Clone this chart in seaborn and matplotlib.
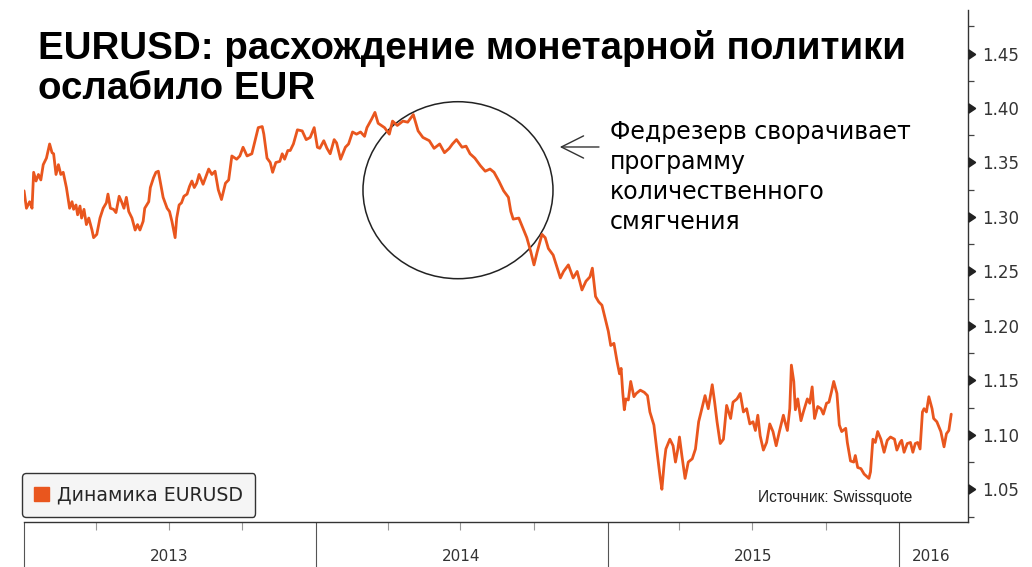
import pandas as pd
import matplotlib.pyplot as plt
import matplotlib.dates as mdates
import matplotlib.transforms as mtransforms
from matplotlib.patches import Patch, Ellipse
from matplotlib.ticker import MultipleLocator, NullFormatter, FormatStrFormatter
import seaborn as sns

# EURUSD (approximate points)
dates = [
    '2013-01-01', '2013-01-04', '2013-01-08', '2013-01-11', '2013-01-13', '2013-01-16', '2013-01-19', '2013-01-22', '2013-01-25', '2013-01-29',
    '2013-02-02', '2013-02-05', '2013-02-07', '2013-02-10', '2013-02-13', '2013-02-16', '2013-02-19', '2013-02-23', '2013-02-27',
    '2013-03-02', '2013-03-04', '2013-03-07', '2013-03-09', '2013-03-12', '2013-03-14', '2013-03-17', '2013-03-20', '2013-03-23', '2013-03-27', '2013-03-29',
    '2013-04-02', '2013-04-06', '2013-04-10', '2013-04-14', '2013-04-16', '2013-04-19', '2013-04-23', '2013-04-26', '2013-04-30',
    '2013-05-03', '2013-05-06', '2013-05-09', '2013-05-12', '2013-05-16', '2013-05-20', '2013-05-23', '2013-05-26', '2013-05-30',
    '2013-06-01', '2013-06-06', '2013-06-08', '2013-06-12', '2013-06-15', '2013-06-18', '2013-06-21', '2013-06-24', '2013-06-29',
    '2013-07-02', '2013-07-05', '2013-07-09', '2013-07-11', '2013-07-14', '2013-07-17', '2013-07-20', '2013-07-24', '2013-07-27', '2013-07-30',
    '2013-08-02', '2013-08-05', '2013-08-08', '2013-08-13', '2013-08-20', '2013-08-24', '2013-08-28',
    '2013-09-01', '2013-09-05', '2013-09-10', '2013-09-14', '2013-09-18', '2013-09-24', '2013-09-28',
    '2013-10-02', '2013-10-07', '2013-10-13', '2013-10-17', '2013-10-21', '2013-10-26', '2013-10-28',
    '2013-11-01', '2013-11-05', '2013-11-08', '2013-11-12', '2013-11-17', '2013-11-20', '2013-11-23', '2013-11-27', '2013-11-30',
    '2013-12-04', '2013-12-09', '2013-12-15', '2013-12-20', '2013-12-25', '2013-12-30',
    '2014-01-03', '2014-01-06', '2014-01-11', '2014-01-15', '2014-01-19', '2014-01-24', '2014-01-27',
    '2014-02-01', '2014-02-07', '2014-02-11', '2014-02-16', '2014-02-21', '2014-02-26',
    '2014-03-03', '2014-03-06', '2014-03-12', '2014-03-16', '2014-03-20', '2014-03-22', '2014-03-28',
    '2014-04-03', '2014-04-07', '2014-04-13', '2014-04-20', '2014-04-26',
    '2014-05-03', '2014-05-09', '2014-05-15', '2014-05-23', '2014-05-29',
    '2014-06-05', '2014-06-11', '2014-06-17', '2014-06-21', '2014-06-26',
    '2014-07-03', '2014-07-08', '2014-07-13', '2014-07-19', '2014-07-26',
    '2014-08-01', '2014-08-07', '2014-08-12', '2014-08-18', '2014-08-24', '2014-08-30',
    '2014-09-02', '2014-09-05', '2014-09-12', '2014-09-17', '2014-09-22', '2014-09-27',
    '2014-10-01', '2014-10-05', '2014-10-11', '2014-10-15', '2014-10-19', '2014-10-25',
    '2014-11-03', '2014-11-07', '2014-11-13', '2014-11-19', '2014-11-24', '2014-11-30',
    '2014-12-05', '2014-12-10', '2014-12-13', '2014-12-17', '2014-12-21', '2014-12-25', '2014-12-29',
    '2015-01-02', '2015-01-05', '2015-01-09', '2015-01-13', '2015-01-16', '2015-01-18', '2015-01-20', '2015-01-22', '2015-01-24', '2015-01-27', '2015-01-30',
    '2015-02-03', '2015-02-06', '2015-02-11', '2015-02-16', '2015-02-20', '2015-02-23', '2015-02-28',
    '2015-03-04', '2015-03-08', '2015-03-10', '2015-03-13', '2015-03-15', '2015-03-20', '2015-03-24', '2015-03-27', '2015-03-30',
    '2015-04-01', '2015-04-04', '2015-04-08', '2015-04-12', '2015-04-17', '2015-04-21', '2015-04-25', '2015-04-29',
    '2015-05-03', '2015-05-07', '2015-05-12', '2015-05-15', '2015-05-18', '2015-05-22', '2015-05-26', '2015-05-30',
    '2015-06-04', '2015-06-07', '2015-06-12', '2015-06-16', '2015-06-20', '2015-06-24', '2015-06-28',
    '2015-07-02', '2015-07-05', '2015-07-08', '2015-07-11', '2015-07-15', '2015-07-19', '2015-07-23', '2015-07-27', '2015-07-31',
    '2015-08-04', '2015-08-09', '2015-08-11', '2015-08-14', '2015-08-17', '2015-08-19', '2015-08-22', '2015-08-24', '2015-08-27', '2015-08-31',
    '2015-09-03', '2015-09-08', '2015-09-11', '2015-09-14', '2015-09-17', '2015-09-21', '2015-09-25', '2015-09-28',
    '2015-10-02', '2015-10-05', '2015-10-08', '2015-10-11', '2015-10-15', '2015-10-18', '2015-10-21', '2015-10-26', '2015-10-28',
    '2015-11-01', '2015-11-05', '2015-11-07', '2015-11-10', '2015-11-14', '2015-11-18', '2015-11-24', '2015-11-26', '2015-11-29',
    '2015-12-02', '2015-12-05', '2015-12-09', '2015-12-13', '2015-12-17', '2015-12-21', '2015-12-26', '2015-12-29',
    '2016-01-02', '2016-01-04', '2016-01-07', '2016-01-11', '2016-01-15', '2016-01-18', '2016-01-21', '2016-01-24', '2016-01-27', '2016-01-30',
    '2016-02-01', '2016-02-04', '2016-02-07', '2016-02-11', '2016-02-13', '2016-02-17', '2016-02-22', '2016-02-26', '2016-02-29',
    '2016-03-03', '2016-03-06',
]
eurusd = [
    1.324, 1.308, 1.314, 1.308, 1.341, 1.333, 1.339, 1.334, 1.348, 1.354,
    1.367, 1.359, 1.358, 1.339, 1.348, 1.339, 1.341, 1.327, 1.308,
    1.314, 1.307, 1.311, 1.302, 1.310, 1.299, 1.307, 1.293, 1.299, 1.288, 1.281,
    1.284, 1.299, 1.308, 1.313, 1.321, 1.308, 1.307, 1.304, 1.319,
    1.314, 1.308, 1.318, 1.305, 1.299, 1.288, 1.293, 1.288, 1.296,
    1.308, 1.314, 1.327, 1.336, 1.341, 1.342, 1.330, 1.318, 1.308,
    1.305, 1.296, 1.281, 1.299, 1.311, 1.313, 1.319, 1.321, 1.328, 1.333,
    1.327, 1.331, 1.339, 1.330, 1.344, 1.339, 1.342,
    1.325, 1.316, 1.331, 1.334, 1.356, 1.353, 1.356,
    1.364, 1.356, 1.358, 1.370, 1.382, 1.383, 1.376,
    1.354, 1.350, 1.341, 1.350, 1.351, 1.358, 1.353, 1.361, 1.361,
    1.367, 1.380, 1.379, 1.371, 1.373, 1.382,
    1.364, 1.363, 1.370, 1.363, 1.358, 1.371, 1.368,
    1.353, 1.364, 1.367, 1.378, 1.376, 1.378,
    1.374, 1.382, 1.390, 1.396, 1.386, 1.385, 1.382,
    1.376, 1.388, 1.384, 1.388, 1.387,
    1.394, 1.379, 1.373, 1.370, 1.363,
    1.367, 1.359, 1.363, 1.367, 1.371,
    1.364, 1.365, 1.358, 1.354, 1.347,
    1.342, 1.344, 1.341, 1.333, 1.324, 1.318,
    1.305, 1.298, 1.299, 1.290, 1.281, 1.268,
    1.256, 1.268, 1.284, 1.281, 1.271, 1.265,
    1.244, 1.250, 1.256, 1.244, 1.250, 1.233,
    1.241, 1.245, 1.253, 1.227, 1.222, 1.219, 1.207,
    1.195, 1.182, 1.184, 1.167, 1.156, 1.161, 1.139, 1.123, 1.133, 1.132, 1.149,
    1.135, 1.138, 1.141, 1.139, 1.136, 1.121, 1.109,
    1.084, 1.060, 1.050, 1.075, 1.087, 1.096, 1.090, 1.075, 1.087,
    1.098, 1.081, 1.060, 1.075, 1.078, 1.087, 1.112, 1.124,
    1.136, 1.124, 1.146, 1.130, 1.112, 1.092, 1.096, 1.127,
    1.115, 1.130, 1.133, 1.138, 1.121, 1.124, 1.110,
    1.112, 1.104, 1.118, 1.099, 1.086, 1.093, 1.110, 1.103, 1.090,
    1.103, 1.118, 1.112, 1.104, 1.124, 1.164, 1.149, 1.123, 1.133, 1.113,
    1.121, 1.133, 1.129, 1.144, 1.115, 1.126, 1.124, 1.119,
    1.129, 1.130, 1.139, 1.149, 1.138, 1.109, 1.103, 1.106, 1.093,
    1.076, 1.075, 1.081, 1.070, 1.069, 1.064, 1.060, 1.066, 1.096,
    1.093, 1.103, 1.096, 1.084, 1.095, 1.098, 1.096, 1.086,
    1.093, 1.095, 1.084, 1.092, 1.093, 1.084, 1.092, 1.093, 1.087, 1.121,
    1.124, 1.121, 1.135, 1.124, 1.115, 1.112, 1.103, 1.089, 1.101,
    1.104, 1.119,
]
years = [2013, 2014, 2015, 2016]
year_label_pos = ['2013-07-02', '2014-07-02', '2015-07-02', '2016-02-10']
y_major = [1.05, 1.10, 1.15, 1.20, 1.25, 1.30, 1.35, 1.40, 1.45]

line_color = '#E9561E'

sns.set_style('white')
plt.rcParams['font.family'] = ['DejaVu Sans']

df = pd.DataFrame({'date': pd.to_datetime(dates), 'eurusd': eurusd})

fig = plt.figure(figsize=(10.32, 5.67), dpi=100)
ax = fig.add_axes([0.0233, 0.0794, 0.9147, 0.9030])

sns.lineplot(data=df, x='date', y='eurusd', color=line_color, linewidth=2.0, ax=ax)

ax.set_xlim(pd.Timestamp('2013-01-01'), pd.Timestamp('2016-03-27'))
ax.set_ylim(1.02, 1.49)
ax.set_xlabel('')
ax.set_ylabel('')

for side in ['left', 'top']:
    ax.spines[side].set_visible(False)
for side in ['right', 'bottom']:
    ax.spines[side].set_color('#333333')
    ax.spines[side].set_linewidth(1.0)

# x axis: year separators + quarter ticks, year labels in between
ax.xaxis.set_major_locator(mdates.YearLocator())
ax.xaxis.set_major_formatter(NullFormatter())
ax.xaxis.set_minor_locator(mdates.MonthLocator(bymonth=[4, 7, 10]))
ax.xaxis.set_minor_formatter(NullFormatter())
ax.tick_params(axis='x', which='both', bottom=True)
ax.tick_params(axis='x', which='major', length=34, width=0.8, color='#555555', direction='out')
ax.tick_params(axis='x', which='minor', length=6, width=0.8, color='#999999', direction='out')
trans_x = mtransforms.blended_transform_factory(ax.transData, ax.transAxes)
for yr, pos in zip(years, year_label_pos):
    ax.text(pd.Timestamp(pos), -0.068, str(yr), transform=trans_x,
            ha='center', va='center', fontsize=11, color='#333333')

# y axis on the right with caret markers
ax.yaxis.tick_right()
ax.set_yticks(y_major)
ax.yaxis.set_major_formatter(FormatStrFormatter('%.2f'))
ax.yaxis.set_minor_locator(MultipleLocator(0.025))
ax.tick_params(axis='y', which='major', length=0, pad=10, labelsize=12, labelcolor='#333333')
ax.tick_params(axis='y', which='minor', length=4, width=0.9, color='#444444', direction='out')
trans_y = mtransforms.blended_transform_factory(ax.transAxes, ax.transData)
ax.scatter([1.0] * len(y_major), y_major, marker=9, s=40, color='#222222',
           transform=trans_y, clip_on=False, zorder=5)

# legend
handle = Patch(facecolor=line_color, edgecolor=line_color, label='Динамика EURUSD')
leg = ax.legend(handles=[handle], loc='lower left', bbox_to_anchor=(-0.002, 0.01),
                borderaxespad=0, frameon=True, fancybox=True, fontsize=13.6,
                handlelength=0.75, handleheight=0.75, handletextpad=0.45,
                borderpad=0.65, framealpha=1)
leg.get_frame().set_edgecolor('#333333')
leg.get_frame().set_facecolor('#f5f5f5')
leg.get_frame().set_linewidth(1.0)

ax.text(0.9407, 0.039, 'Источник: Swissquote', transform=ax.transAxes,
        ha='right', va='baseline', fontsize=11.2, color='#222222',
        family='Liberation Sans')

# circle + arrow + comment
ax.add_patch(Ellipse((0.4597, 0.648), 0.2013, 0.3457, transform=ax.transAxes,
                     fill=False, edgecolor='#222222', linewidth=1.1, clip_on=False))
ax.annotate('', xy=(0.5646, 0.7324), xytext=(0.612, 0.7324), xycoords='axes fraction',
            arrowprops=dict(arrowstyle='->,head_length=0.8,head_width=0.4',
                            color='#333333', lw=1.0, mutation_scale=20))
fig.text(0.591, 0.789, 'Федрезерв сворачивает\nпрограмму\nколичественного\nсмягчения',
         ha='left', va='top', fontsize=17, linespacing=1.33, color='#000000')

# title, two lines
fig.text(0.037, 1 - 59 / 567, 'EURUSD: расхождение монетарной политики',
         ha='left', va='baseline', fontsize=27.7, fontweight='bold',
         family='Liberation Sans', color='#000000')
fig.text(0.037, 1 - 99 / 567, 'ослабило EUR',
         ha='left', va='baseline', fontsize=27.7, fontweight='bold',
         family='Liberation Sans', color='#000000')

fig.savefig('out.png', dpi=100)
